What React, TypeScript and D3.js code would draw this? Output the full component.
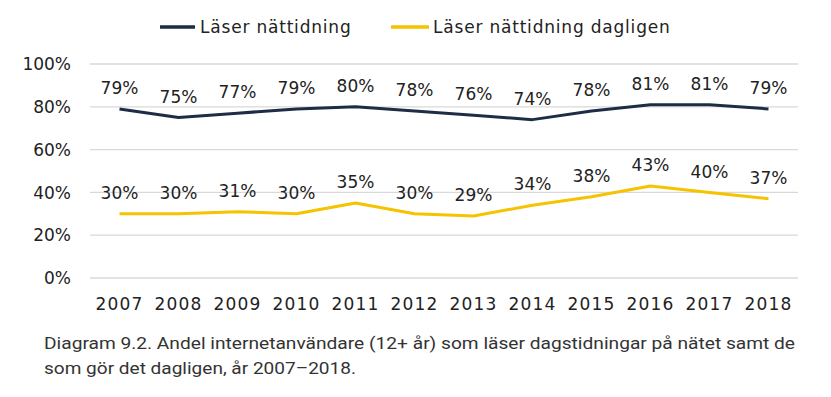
import * as d3 from 'd3'
import React from 'react'

const years = ['2007', '2008', '2009', '2010', '2011', '2012', '2013', '2014', '2015', '2016', '2017', '2018']
const lasare = [79, 75, 77, 79, 80, 78, 76, 74, 78, 81, 81, 79]
const dagligen = [30, 30, 31, 30, 35, 30, 29, 34, 38, 43, 40, 37]
const yTicks = [0, 20, 40, 60, 80, 100]
const seriesNames = ['Läser nättidning', 'Läser nättidning dagligen']
const caption = [
  'Diagram 9.2. Andel internetanvändare (12+ år) som läser dagstidningar på nätet samt de',
  'som gör det dagligen, år 2007–2018.'
]
const captionWidths = [751, 312]

const W = 831
const H = 397
const NAVY = '#1d2d45'
const YELLOW = '#f5c300'
const TEXT = '#222'
const FONT = '"DejaVu Sans", sans-serif'

export default function App() {
  const x = d3.scalePoint<string>().domain(years).range([90, 798]).padding(0.5)
  const y = d3.scaleLinear().domain([0, 100]).range([278, 64])

  const line = d3
    .line<number>()
    .x((_, i) => x(years[i]) as number)
    .y(d => y(d))

  const series = [
    { name: seriesNames[0], values: lasare, color: NAVY },
    { name: seriesNames[1], values: dagligen, color: YELLOW }
  ]

  return (
    <svg
      width={W}
      height={H}
      style={{ position: 'absolute', left: 0, top: 0, background: '#fff' }}
      fontFamily={FONT}
    >
      {/* grid */}
      {yTicks.map(t => (
        <g key={t}>
          <line x1={90} x2={798} y1={y(t)} y2={y(t)} stroke="#d9d9d9" strokeWidth={1.3} />
          <text x={71} y={y(t)} dy="0.36em" textAnchor="end" fontSize={17} fill={TEXT}>
            {t}%
          </text>
        </g>
      ))}

      {/* x axis labels */}
      {years.map(yr => (
        <text
          key={yr}
          x={x(yr)}
          y={304}
          dy="0.36em"
          textAnchor="middle"
          fontSize={17}
          letterSpacing={1.2}
          fill={TEXT}
        >
          {yr}
        </text>
      ))}

      {/* lines + labels */}
      {series.map(s => (
        <g key={s.name}>
          <path d={line(s.values) ?? ''} fill="none" stroke={s.color} strokeWidth={3} strokeLinejoin="round" />
          {s.values.map((v, i) => (
            <text
              key={i}
              x={x(years[i])}
              y={y(v) - 21}
              dy="0.36em"
              textAnchor="middle"
              fontSize={17}
              fill={TEXT}
            >
              {v}%
            </text>
          ))}
        </g>
      ))}

      {/* legend */}
      <g>
        <line x1={160} x2={195} y1={27} y2={27} stroke={NAVY} strokeWidth={3.5} />
        <text x={200} y={27} dy="0.36em" fontSize={17} letterSpacing={0.8} fill={TEXT}>
          {seriesNames[0]}
        </text>
        <line x1={391} x2={429} y1={27} y2={27} stroke={YELLOW} strokeWidth={3.5} />
        <text x={433} y={27} dy="0.36em" fontSize={17} letterSpacing={0.8} fill={TEXT}>
          {seriesNames[1]}
        </text>
      </g>

      {/* caption */}
      {caption.map((c, i) => (
        <text
          key={i}
          x={44}
          y={343 + i * 25}
          dy="0.36em"
          fontSize={16.5}
          fill="#333"
          textLength={captionWidths[i]}
          lengthAdjust="spacingAndGlyphs"
          fontFamily='Roboto, sans-serif'
        >
          {c}
        </text>
      ))}
    </svg>
  )
}
